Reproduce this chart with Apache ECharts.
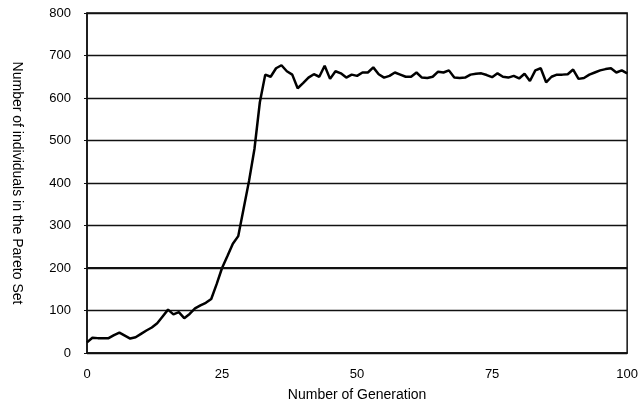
<!DOCTYPE html>
<html>
<head>
<meta charset="utf-8">
<script src="https://cdn.jsdelivr.net/npm/echarts@6/dist/echarts.min.js"></script>
<style>html,body{margin:0;padding:0;background:#fff}#c{width:641px;height:407px}</style>
</head>
<body>
<div id="c"></div>
<script>
const generations = [];
for (let g = 0; g <= 100; g++) generations.push(g);
const paretoCount = [
  25, 36, 35, 35, 35, 42, 48, 41, 34, 37,
  45, 53, 60, 70, 86, 102, 91, 96, 82, 92,
  105, 112, 118, 127, 162, 200, 228, 257, 275, 340,
  405, 480, 590, 655, 650, 670, 677, 663, 655, 623,
  635, 648, 656, 650, 676, 645, 663, 658, 648, 655,
  652, 660, 660, 672, 656, 648, 652, 660, 655, 650,
  650, 660, 648, 647, 650, 662, 660, 665, 648, 647,
  648, 655, 657, 658, 654, 649, 658, 650, 648, 652,
  646, 657, 640, 665, 670, 637, 650, 655, 655, 656,
  667, 645, 647, 655, 660, 665, 668, 670, 660, 665,
  658
];
const xTicks = { min: 0, max: 100, interval: 25 };
const yTicks = { min: 0, max: 800, interval: 100 };
const xTitle = 'Number of Generation';
const yTitle = 'Number of individuals in the Pareto Set';

const chart = echarts.init(document.getElementById('c'));
const font = 'Liberation Sans, Arial, sans-serif';
chart.setOption({
  animation: false,
  backgroundColor: '#fff',
  grid: { left: 87, right: 5, top: 13, bottom: 52, show: true, borderColor: '#111', borderWidth: 1.5 },
  xAxis: {
    type: 'value', min: xTicks.min, max: xTicks.max, interval: xTicks.interval,
    name: xTitle, nameLocation: 'middle', nameGap: 35,
    nameTextStyle: { fontFamily: font, fontSize: 14, color: '#000' },
    axisLine: { lineStyle: { color: '#111', width: 1.5 } },
    axisTick: { show: false },
    axisLabel: { fontFamily: font, fontSize: 13, color: '#000', margin: 15 },
    splitLine: { show: false }
  },
  yAxis: {
    type: 'value', min: yTicks.min, max: yTicks.max, interval: yTicks.interval,
    name: yTitle, nameLocation: 'middle', nameGap: 63, nameRotate: -90,
    nameTextStyle: { fontFamily: font, fontSize: 14, color: '#000' },
    axisLine: { show: true, lineStyle: { color: '#111', width: 1.5 } },
    axisTick: { show: true, length: 3, lineStyle: { color: '#111' } },
    axisLabel: { fontFamily: font, fontSize: 13, color: '#000', margin: 16 },
    splitLine: { show: true, lineStyle: { color: '#111', width: 1.3 } }
  },
  series: [{
    type: 'line',
    data: generations.map((g, i) => [g, paretoCount[i]]),
    showSymbol: false,
    lineStyle: { color: '#000', width: 2.5 },
    markLine: {
      silent: true, symbol: 'none', label: { show: false },
      lineStyle: { color: '#111', width: 2, type: 'solid' },
      data: [{ yAxis: 200 }]
    }
  }]
});
</script>
</body>
</html>
